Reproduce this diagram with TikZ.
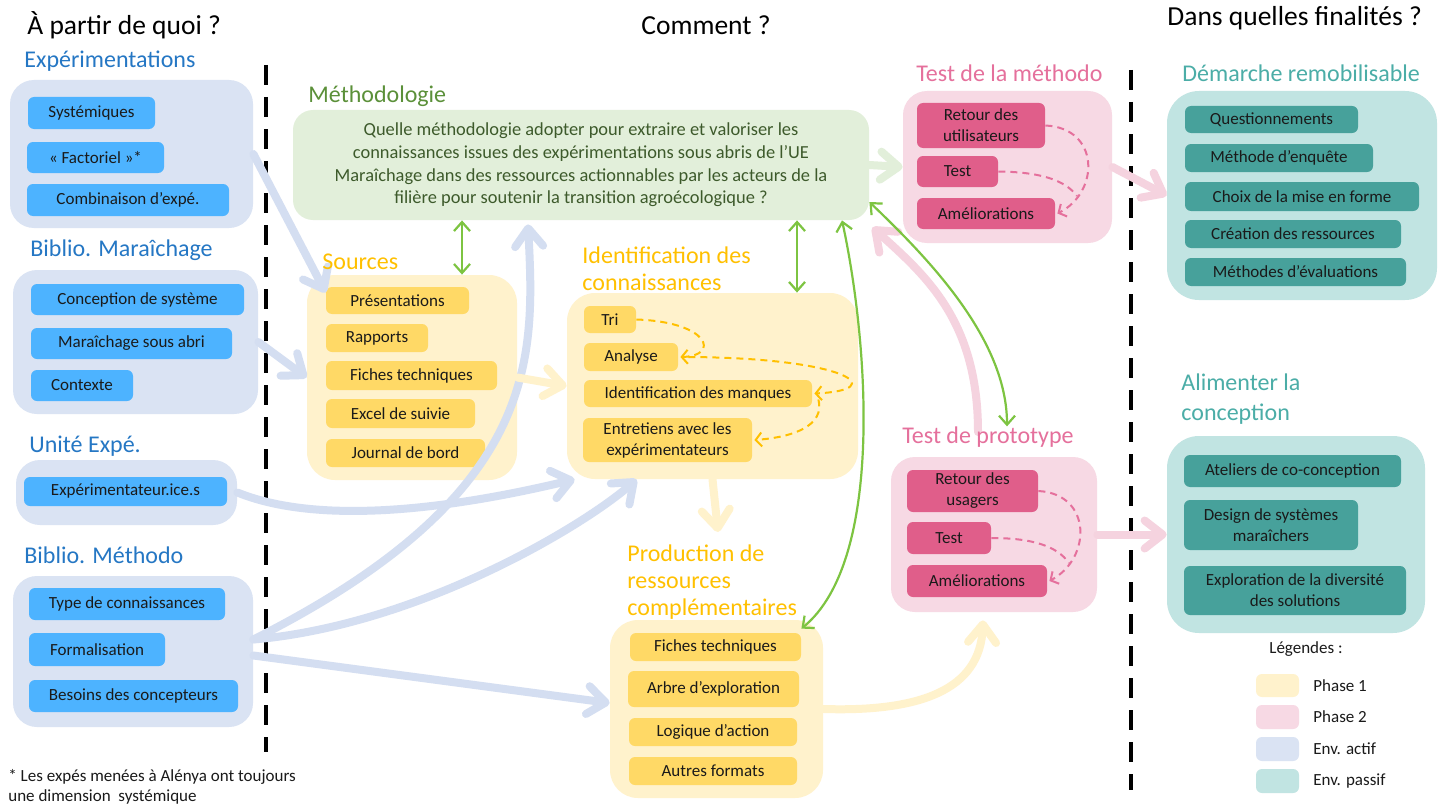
\documentclass[tikz,border=0pt]{standalone}
\usepackage{fontspec}
\setmainfont{Carlito}
\usetikzlibrary{arrows.meta}

\definecolor{cEnvA}{HTML}{DAE3F3}
\definecolor{cBlueItem}{HTML}{4DB3FF}
\definecolor{cBlueHead}{HTML}{2577C4}
\definecolor{cPh1}{HTML}{FFF2CC}
\definecolor{cYItem}{HTML}{FFD966}
\definecolor{cYHead}{HTML}{FFC000}
\definecolor{cPh2}{HTML}{F7D9E4}
\definecolor{cPItem}{HTML}{E05E8A}
\definecolor{cPHead}{HTML}{E5709C}
\definecolor{cPass}{HTML}{C1E4E2}
\definecolor{cTItem}{HTML}{47A19B}
\definecolor{cTHead}{HTML}{4BADA7}
\definecolor{cMeth}{HTML}{E2EFDA}
\definecolor{cMHead}{HTML}{5B9039}
\definecolor{cMText}{HTML}{3D5A2B}
\definecolor{cGreen}{HTML}{7DC441}
\definecolor{cArrB}{HTML}{D4DEF1}
\definecolor{cArrP}{HTML}{F5D3DF}
\definecolor{cTxt}{HTML}{1A1A1A}

\newcommand\fItem{\fontsize{8.5}{10.5}\selectfont}
\newcommand\fHead{\fontsize{12}{13.5}\selectfont}
\newcommand\fTitle{\fontsize{13.75}{16}\selectfont}
\newcommand\fMeth{\fontsize{9.2}{11.35}\selectfont}
\newcommand\placebox[7]{\node[#6, minimum width={(#4-#2)*0.5pt}, minimum height={(#5-#3)*0.5pt}] (#1) at ({(#2+#4)/2},{(#3+#5)/2}) {#7};}

\begin{document}
\begin{tikzpicture}[x=0.5pt,y=-0.5pt,
  big/.style={inner sep=0pt, rounded corners=12pt},
  envbox/.style={big, fill=cEnvA},
  ph1box/.style={big, fill=cPh1, rounded corners=14pt},
  ph2box/.style={big, fill=cPh2},
  passbox/.style={big, fill=cPass, rounded corners=16pt},
  methbox/.style={big, fill=cMeth, rounded corners=10pt, align=center, font=\fMeth, text=cMText},
  item/.style={inner sep=0pt, rounded corners=3pt, font=\fItem, text=cTxt, align=center},
  bitem/.style={item, fill=cBlueItem},
  yitem/.style={item, fill=cYItem},
  pitem/.style={item, fill=cPItem},
  titem/.style={item, fill=cTItem},
  hd/.style={anchor=west, inner sep=0pt, font=\fHead, align=left},
  bhd/.style={hd, text=cBlueHead},
  yhd/.style={hd, text=cYHead},
  phd/.style={hd, text=cPHead},
  thd/.style={hd, text=cTHead},
  ttl/.style={anchor=west, inner sep=0pt, font=\fTitle, text=black},
  fat/.style={line width=4pt, line cap=round, >={Straight Barb[length=9pt,width=14pt,line width=4pt,round]}, ->},
  fatB/.style={fat, draw=cArrB},
  fatY/.style={fat, draw=cPh1},
  fatP/.style={fat, draw=cArrP},
  fatG/.style={fat, draw=cMeth},
  grn/.style={draw=cGreen, line width=1.1pt, >={Straight Barb[length=4.5pt,width=8pt,line width=1.1pt]}, <->},
  dsh/.style={line width=1pt, dash pattern=on 3.5pt off 2.5pt, >={Straight Barb[length=3pt,width=7pt,line width=1pt]}},
  dshY/.style={dsh, draw=cYHead},
  dshP/.style={dsh, draw=cPHead},
  vsep/.style={line width=2pt, dash pattern=on 10pt off 6pt},
  swatch/.style={inner sep=0pt, rounded corners=3pt},
  leg/.style={anchor=west, inner sep=0pt, font=\fItem, text=cTxt}
]
\fill[white] (0,0) rectangle (1449,808);
\useasboundingbox (0,0) rectangle (1449,808);

% separators
\draw[vsep] (266,65) -- (266,752);
\draw[vsep] (1131,70) -- (1131,790);

% big boxes
\placebox{envA}{10}{80}{253}{228}{envbox}{}
\placebox{envB}{13}{270}{258}{414}{envbox}{}
\placebox{envC}{16}{460}{237}{525}{envbox}{}
\placebox{envD}{13}{576}{253}{727}{envbox}{}
\placebox{methodo}{293}{110}{869}{220}{methbox}{Quelle méthodologie adopter pour extraire et valoriser les\\connaissances issues des expérimentations sous abris de l’UE\\Maraîchage dans des ressources actionnables par les acteurs de la\\filière pour soutenir la transition agroécologique ?}
\placebox{src}{307}{275}{517}{480}{ph1box}{}
\placebox{ident}{567}{293}{858}{479}{ph1box}{}
\placebox{prod}{610}{620}{823}{798}{ph1box}{}
\placebox{testM}{903}{91}{1112}{243}{ph2box}{}
\placebox{testP}{891}{457}{1097}{612}{ph2box}{}
\placebox{demarche}{1167}{91}{1437}{300}{passbox}{}
\placebox{alim}{1167}{436}{1425}{633}{passbox}{}

% items
\placebox{sys}{28}{97}{155}{129}{bitem}{Systémiques}
\placebox{fact}{27}{142}{164}{173}{bitem}{« Factoriel »*}
\placebox{comb}{27}{184}{229}{216}{bitem}{Combinaison d’expé.}
\placebox{conc}{31}{284}{244}{315}{bitem}{Conception de système}
\placebox{msa}{31}{328}{232}{359}{bitem}{Maraîchage sous abri}
\placebox{ctx}{31}{370}{133}{401}{bitem}{Contexte}
\placebox{expe}{24}{477}{227}{506}{bitem}{Expérimentateur.ice.s}
\placebox{typ}{29}{588}{225}{620}{bitem}{Type de connaissances}
\placebox{form}{29}{633}{165}{666}{bitem}{Formalisation}
\placebox{bes}{29}{680}{238}{712}{bitem}{Besoins des concepteurs}

\placebox{pres}{326}{287}{469}{314}{yitem}{Présentations}
\placebox{rapp}{326}{324}{428}{352}{yitem}{Rapports}
\placebox{fich}{326}{361}{497}{390}{yitem}{Fiches techniques}
\placebox{excel}{326}{399}{475}{428}{yitem}{Excel de suivie}
\placebox{jour}{326}{439}{485}{467}{yitem}{Journal de bord}

% fat arrows
\draw[fatB] (envA.east) -- ([yshift=4pt]pres.west);
\draw[fatB] (envB.east) -- (src.west);
\draw[fatB] (envC.east) .. controls (330,530) and (480,502) .. ([xshift=4pt]ident.south west);
\draw[fatB] ([yshift=6pt]envD.east) .. controls (540,495) and (535,360) .. ([xshift=-26.5pt,yshift=-2pt]methodo.south);
\draw[fatB] ([yshift=6pt]envD.east) .. controls (420,625) and (585,525) .. ([xshift=35pt]ident.south west);
\draw[fatB] ([yshift=-2pt]envD.east) -- ([yshift=3pt]prod.west);
\draw[fatY] (src.east) -- (ident.west);
\coordinate (prodIn) at (718,532);
\draw[fatY] (ident.south) -- (prodIn);
\draw[fatY] (prod.east) .. controls (920,712) and (980,690) .. ([xshift=-5.5pt,yshift=-4pt]testP.south);
\draw[fatG] (methodo.east) -- (testM.west);
\draw[fatP] (testM.east) -- (demarche.west);
\draw[fatP] (testP.east) -- (alim.west);
\coordinate (protoUp) at (978,432);
\draw[fatP] (protoUp) .. controls (978,320) and (925,275) .. ([xshift=1.5pt,yshift=-3.5pt]methodo.south east);

% phase items
\placebox{tri}{584}{306}{636}{333}{yitem}{Tri}
\placebox{anal}{584}{343}{678}{371}{yitem}{Analyse}
\placebox{manq}{584}{380}{812}{407}{yitem}{Identification des manques}
\placebox{entr}{583}{418}{752}{462}{yitem}{Entretiens avec les\\expérimentateurs}

\placebox{pfich}{630}{633}{801}{661}{yitem}{Fiches techniques}
\placebox{arbre}{628}{671}{799}{707}{yitem}{Arbre d’exploration}
\placebox{logi}{629}{718}{797}{746}{yitem}{Logique d’action}
\placebox{autr}{629}{757}{797}{785}{yitem}{Autres formats}

\placebox{tmRet}{917}{103}{1045}{148}{pitem}{Retour des\\utilisateurs}
\placebox{tmTest}{917}{156}{998}{187}{pitem}{Test}
\placebox{tmAmel}{917}{198}{1055}{229}{pitem}{Améliorations}

\placebox{tpRet}{907}{470}{1038}{512}{pitem}{Retour des\\usagers}
\placebox{tpTest}{907}{522}{991}{554}{pitem}{Test}
\placebox{tpAmel}{907}{565}{1047}{597}{pitem}{Améliorations}

\placebox{dq}{1185}{106}{1358}{133}{titem}{Questionnements}
\placebox{dme}{1185}{144}{1373}{172}{titem}{Méthode d’enquête}
\placebox{dch}{1185}{182}{1419}{211}{titem}{Choix de la mise en forme}
\placebox{dcr}{1185}{220}{1401}{248}{titem}{Création des ressources}
\placebox{dmev}{1185}{258}{1406}{286}{titem}{Méthodes d’évaluations}

\placebox{aat}{1184}{455}{1401}{487}{titem}{Ateliers de co-conception}
\placebox{ads}{1184}{500}{1358}{550}{titem}{Design de systèmes\\maraîchers}
\placebox{aex}{1184}{566}{1406}{615}{titem}{Exploration de la diversité\\des solutions}

% titles and headings
\node[ttl] (t1) at (27,25) {À partir de quoi ?};
\node[ttl] (t2) at (641,25) {Comment ?};
\node[ttl] (t3) at (1167,18) {Dans quelles finalités ?};
\node[bhd] (hExp) at (24,61) {Expérimentations};
\node[hd, text=cMHead] (hMeth) at (308,96) {Méthodologie};
\node[bhd] (hBM) at (30,250) {Biblio. Maraîchage};
\node[yhd] (hSrc) at (322,262) {Sources};
\node[yhd] (hId) at (582,268.5) {Identification des\\connaissances};
\node[bhd] (hUE) at (29,446) {Unité Expé.};
\node[bhd] (hBMe) at (24,555) {Biblio. Méthodo};
\node[yhd] (hProd) at (627,582) {Production de\\ressources\\complémentaires};
\node[phd] (hTM) at (916,73) {Test de la méthodo};
\node[thd] (hDem) at (1182,73) {Démarche remobilisable};
\node[phd] (hTP) at (902,437) {Test de prototype};
\node[thd, font=\fontsize{12}{15}\selectfont] (hAl) at (1181,399) {Alimenter la\\conception};

% footnote
\node[anchor=west, inner sep=0pt, align=left, font=\fontsize{8.5}{10}\selectfont, text=cTxt] (fn) at (8,787) {* Les expés menées à Alénya ont toujours\\une dimension~~systémique};

% legend
\node[font=\fItem, text=cTxt, inner sep=0pt] (legT) at (1306,649) {Légendes :};
\placebox{sw1}{1256}{674}{1299}{697}{swatch, fill=cPh1}{}
\placebox{sw2}{1256}{705}{1299}{729}{swatch, fill=cPh2}{}
\placebox{sw3}{1256}{737}{1299}{761}{swatch, fill=cEnvA}{}
\placebox{sw4}{1256}{769}{1299}{793}{swatch, fill=cPass}{}
\node[leg] (l1) at (1313,686) {Phase 1};
\node[leg] (l2) at (1313,717) {Phase 2};
\node[leg] (l3) at (1313,749) {Env. actif};
\node[leg] (l4) at (1313,781) {Env. passif};

% dashed arrows
\draw[dshY, ->] (tri.east) .. controls (710,322) and (720,356) .. ([xshift=1pt]anal.east);
\draw[dshY, ->] ([xshift=5pt]anal.east) .. controls (850,358) and (890,390) .. ([xshift=1pt]manq.east);
\draw[dshY, ->] ([xshift=3pt,yshift=-3pt]manq.east) .. controls (825,425) and (795,437) .. ([xshift=1pt]entr.east);

\draw[dshP, ->] (tmRet.east) .. controls (1100,128) and (1100,192) .. ([xshift=1pt]tmAmel.east);
\coordinate (jM) at (1077,196);
\draw[dshP] (tmTest.east) .. controls (1040,172) and (1065,180) .. (jM);
\draw[dshP, ->] (tpRet.east) .. controls (1092,494) and (1092,558) .. ([xshift=1pt]tpAmel.east);
\coordinate (jP) at (1069,563);
\draw[dshP] (tpTest.east) .. controls (1032,538) and (1057,546) .. (jP);

% green links
\draw[grn] (methodo.south -| 462,0) -- (src.north -| 462,0);
\draw[grn] (methodo.south -| 797,0) -- (ident.north -| 797,0);
\draw[grn] (methodo.south -| 842,0) .. controls (868,340) and (885,560) .. ([yshift=2pt]pfich.north east);
\draw[grn] (methodo.east |- 0,202) .. controls (930,260) and (1007,340) .. (hTP.north -| 1007,0);
\end{tikzpicture}
\end{document}
